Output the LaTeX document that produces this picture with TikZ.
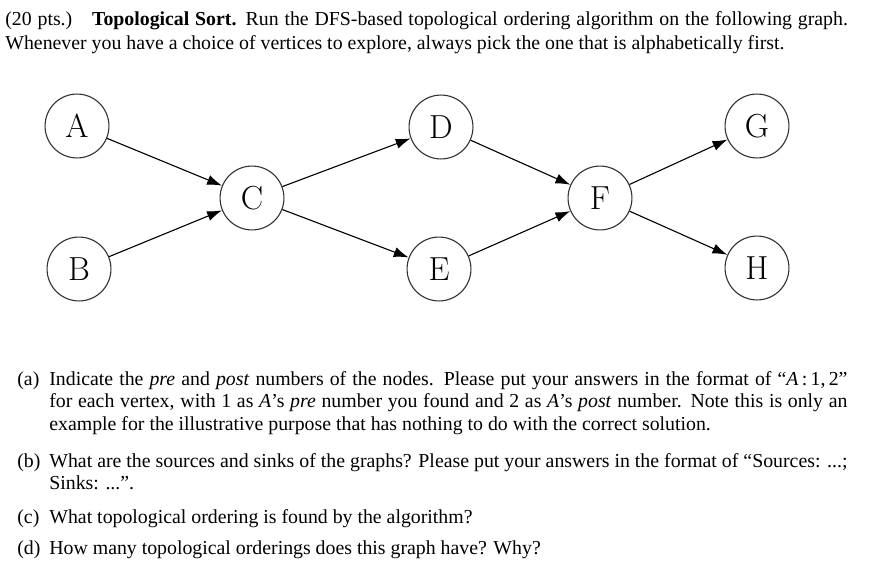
\documentclass[tikz,border=0pt]{standalone}
\usepackage{fontspec}
\newfontfamily\timesfont{Liberation Serif}
\usetikzlibrary{arrows.meta}

\tikzset{
  vertex/.style={circle, draw=black!80, fill=white, line width=0.6pt,
    minimum size=34.5pt, inner sep=0pt, font=\fontsize{18}{20}\selectfont},
  edge/.style={-{Latex[length=8pt,width=5.5pt]}, line width=0.6pt},
  prose/.style={font=\timesfont\fontsize{10.7}{12.2}\selectfont, inner sep=0pt,
    anchor=base west},
  itemtext/.style={prose, text width=431pt, align=justify},
}

\begin{document}
\begin{tikzpicture}[x=0.54pt, y=-0.54pt]
  \useasboundingbox (0,0) rectangle (876,578);

  %% Problem statement
  \node[prose, font=\timesfont\fontsize{10.7}{13.2}\selectfont,
        text width=455pt, align=justify] (head) at (5,25)
    {(20 pts.)\quad\textbf{Topological Sort.} Run the DFS-based topological ordering algorithm on the following graph. Whenever you have a choice of vertices to explore, always pick the one that is alphabetically first.};

  %% Vertices
  \foreach \n/\x/\y in {A/77/126, B/79/269, C/252/198, D/441/127,
                        E/439/269, F/600/198, G/757/126, H/757/268}{
    \node[vertex] (\n) at (\x,\y) {\n};
  }

  %% Edges
  \foreach \s/\t in {A/C, B/C, C/D, C/E, D/F, E/F, F/G, F/H}{
    \draw[edge] (\s) -- (\t);
  }

  %% Questions
  \node[prose] (la) at (17,385) {(a)};
  \node[itemtext] (qa) at (49,385)
    {Indicate the \emph{pre} and \emph{post} numbers of the nodes. Please put your answers in the format of “\emph{A}\,:\,1,\,2” for each vertex, with 1 as \emph{A}’s \emph{pre} number you found and 2 as \emph{A}’s \emph{post} number. Note this is only an example for the illustrative purpose that has nothing to do with the correct solution.};
  \node[prose] (lb) at (17,467) {(b)};
  \node[itemtext] (qb) at (49,467)
    {What are the sources and sinks of the graphs? Please put your answers in the format of “Sources: ...; Sinks: ...”.};
  \node[prose] (lc) at (17,523) {(c)};
  \node[itemtext] (qc) at (49,523)
    {What topological ordering is found by the algorithm?};
  \node[prose] (ld) at (17,554) {(d)};
  \node[itemtext] (qd) at (49,554)
    {How many topological orderings does this graph have? Why?};
\end{tikzpicture}
\end{document}
